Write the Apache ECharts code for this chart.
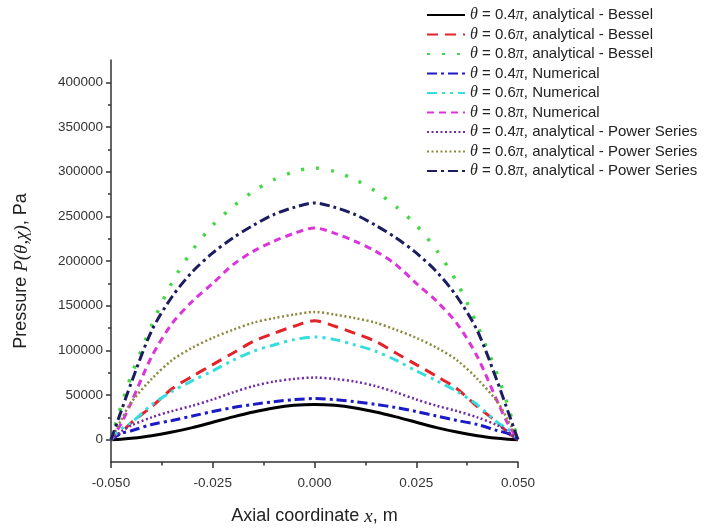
<!DOCTYPE html>
<html><head><meta charset="utf-8">
<script src="https://cdn.jsdelivr.net/npm/echarts@6/dist/echarts.min.js"></script>
<style>html,body{margin:0;padding:0;background:#fff}#c{width:719px;height:531px}</style>
</head><body><div id="c"></div>
<script>
const xValues = [-0.05,-0.0475,-0.045,-0.04,-0.035,-0.03,-0.025,-0.02,-0.015,-0.01,-0.005,0,0.005,0.01,0.015,0.02,0.025,0.03,0.035,0.04,0.045,0.0475,0.05];
const bessel04 = [0,400,1500,4500,8500,13500,19500,25500,31000,35500,38500,39500,38500,35500,31000,25500,19500,13500,8500,4500,1500,400,0];
const bessel06 = [0,8000,19000,37000,57000,71000,84000,97000,110000,119000,127000,133000,127000,119000,110000,97000,84000,71000,57000,37000,19000,8000,0];
const bessel08 = [0,38000,72000,128000,176000,212000,240000,261000,278000,291000,300000,304000,300000,291000,278000,261000,240000,212000,176000,128000,72000,38000,0];
const numer04 = [0,7000,10000,17000,21500,26500,31500,36000,39500,42500,44800,46000,44800,42500,39500,36000,31500,26500,21500,17000,10000,7000,0];
const numer06 = [0,12000,19000,39000,54000,66000,77000,89000,99000,106000,112000,115000,112000,106000,99000,89000,77000,66000,54000,39000,19000,12000,0];
const numer08 = [0,18000,42000,93000,130000,155000,175000,196000,211000,222000,231000,237000,231000,222000,211000,196000,175000,155000,130000,93000,42000,18000,0];
const power04 = [0,9000,16000,25000,32000,38000,45000,53000,60000,65000,68000,69500,68000,65000,60000,53000,45000,38000,32000,25000,16000,9000,0];
const power06 = [0,22000,42000,68000,89000,103000,114000,123000,131000,136000,140000,143000,140000,136000,131000,123000,114000,103000,89000,68000,42000,22000,0];
const power08 = [0,32000,64000,122000,160000,188000,209000,226000,240000,252000,260000,265000,260000,252000,240000,226000,209000,188000,160000,122000,64000,32000,0];

const xTickLabels = [-0.05,-0.025,0,0.025,0.05];
const xMinorTicks = [-0.0375,-0.0125,0.0125,0.0375];
const yTickLabels = [0,50000,100000,150000,200000,250000,300000,350000,400000];
const yMinorTicks = [25000,75000,125000,175000,225000,275000,325000,375000];

const seriesDefs = [
  {name:'θ = 0.4π, analytical - Bessel', data:bessel04, color:'#000000', type:'solid', width:3},
  {name:'θ = 0.6π, analytical - Bessel', data:bessel06, color:'#e3222a', type:[11,7], width:3},
  {name:'θ = 0.8π, analytical - Bessel', data:bessel08, color:'#44d844', type:[3,12], width:3.5},
  {name:'θ = 0.4π, Numerical', data:numer04, color:'#1a1ac8', type:[10,4,3,4], width:3},
  {name:'θ = 0.6π, Numerical', data:numer06, color:'#33dede', type:[10,5,3,5,3,5], width:3},
  {name:'θ = 0.8π, Numerical', data:numer08, color:'#dd33dd', type:[7,5], width:3},
  {name:'θ = 0.4π, analytical - Power Series', data:power04, color:'#6e2aa6', type:[2,2.5], width:2.5},
  {name:'θ = 0.6π, analytical - Power Series', data:power06, color:'#8a8a3a', type:[2,2.5], width:2.5},
  {name:'θ = 0.8π, analytical - Power Series', data:power08, color:'#1c1c60', type:[10,4,3,4], width:3}
];

const FONT = 'Liberation Sans, Arial, sans-serif';
const SERIF = 'Liberation Serif, DejaVu Serif, serif';

const yMin = -25000, yMax = 425000;
const axisLineStyle = {color:'#333', width:1.5};

const option = {
  animation:false,
  backgroundColor:'#fff',
  grid:{left:111, right:201, top:60, bottom:66},
  legend:{
    orient:'vertical', left:421, top:2,
    itemWidth:38, itemHeight:14, itemGap:3.5,
    data: seriesDefs.map(s=>s.name),
    itemStyle:{opacity:0, borderWidth:0},
    formatter: n => n.replace('θ','{i|θ}').replace('π','{i|π}'),
    textStyle:{fontFamily:FONT, fontSize:15, color:'#222', lineHeight:15,
      rich:{i:{fontFamily:SERIF, fontStyle:'italic', fontSize:16, color:'#222'}}}
  },
  xAxis:[{
    type:'value', min:-0.05, max:0.05, position:'bottom',
    axisLine:{show:true, onZero:false, lineStyle:axisLineStyle},
    axisTick:{show:true, length:6, customValues:xTickLabels, lineStyle:{color:'#333', width:1.5}},
    axisLabel:{show:true, customValues:xTickLabels, margin:14, fontFamily:FONT, fontSize:13.5, color:'#333',
      formatter: v => v.toFixed(3)},
    splitLine:{show:false},
    name:'Axial coordinate {i|x}, m', nameLocation:'middle', nameGap:45,
    nameTextStyle:{fontFamily:FONT, fontSize:18, color:'#222',
      rich:{i:{fontFamily:SERIF, fontStyle:'italic', fontSize:19, color:'#222'}}}
  },{
    type:'value', min:-0.05, max:0.05, position:'bottom', offset:0,
    axisLine:{show:false, onZero:false},
    axisTick:{show:true, length:3.5, customValues:xMinorTicks, lineStyle:{color:'#333', width:1.5}},
    axisLabel:{show:false}, splitLine:{show:false}
  }],
  yAxis:[{
    type:'value', min:yMin, max:yMax, position:'left',
    axisLine:{show:true, onZero:false, lineStyle:axisLineStyle},
    axisTick:{show:true, length:5, customValues:yTickLabels, lineStyle:{color:'#333', width:1.5}},
    axisLabel:{show:true, customValues:yTickLabels, margin:8, fontFamily:FONT, fontSize:13.5, color:'#333',
      formatter: v => String(v)},
    splitLine:{show:false},
    name:'Pressure {i|P(θ,χ)}, Pa', nameLocation:'middle', nameGap:80,
    nameTextStyle:{fontFamily:FONT, fontSize:18, color:'#222', padding:[0,20,0,0],
      rich:{i:{fontFamily:SERIF, fontStyle:'italic', fontSize:19, color:'#222'}}}
  },{
    type:'value', min:yMin, max:yMax, position:'left', offset:0,
    axisLine:{show:false, onZero:false},
    axisTick:{show:true, length:3, customValues:yMinorTicks, lineStyle:{color:'#333', width:1.5}},
    axisLabel:{show:false}, splitLine:{show:false}
  }],
  series: seriesDefs.map(s=>({
    name:s.name, type:'line', xAxisIndex:0, yAxisIndex:0,
    data: xValues.map((x,i)=>[x, s.data[i]]),
    showSymbol:false, symbol:'none', smooth:0.3,
    lineStyle:{color:s.color, width:s.width, type:s.type},
    itemStyle:{color:s.color}
  }))
};
const chart = echarts.init(document.getElementById('c'), null, {renderer:'canvas'});
chart.setOption(option);
</script></body></html>
